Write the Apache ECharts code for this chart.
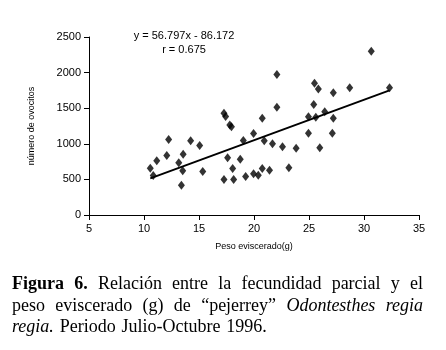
<!DOCTYPE html>
<html>
<head>
<meta charset="utf-8">
<script src="https://cdn.jsdelivr.net/npm/echarts@6/dist/echarts.min.js"></script>
<style>html,body{margin:0;padding:0;background:#fff}#c{width:446px;height:350px}</style>
</head>
<body>
<div id="c"></div>
<script>
// ---- data ----
const pesoEviscerado = [10.57,10.84,11.16,12.07,12.24,13.16,13.40,13.52,13.56,14.24,15.06,15.34,
  17.27,17.27,17.42,17.60,17.80,17.95,18.06,18.15,18.75,19.03,19.24,19.96,19.96,20.39,20.75,20.75,
  20.93,21.41,21.68,22.08,22.08,22.59,23.17,23.83,24.95,24.95,25.43,25.50,25.85,25.62,25.98,26.43,
  27.12,27.21,27.21,28.70,30.66,32.32];
const numeroOvocitos = [657,555,761,836,1060,733,419,621,854,1042,976,611,
  499,1430,1385,803,1265,1240,653,499,784,1046,541,1145,579,559,1360,653,
  1042,629,1000,1973,1514,958,663,938,1379,1149,1552,1850,1770,1374,944,1449,
  1149,1716,1360,1786,2300,1786];
const xTicks = [5,10,15,20,25,30,35];
const yTicks = [0,500,1000,1500,2000,2500];
const slope = 56.797, intercept = -86.172;
const equationText = 'y = 56.797x - 86.172';
const rText = 'r = 0.675';
const xAxisTitle = 'Peso eviscerado(g)';
const yAxisTitle = 'número de ovocitos';
const captionLines = [
  {justify:true, words:[['Figura','b'],['6.','b'],['Relación'],['entre'],['la'],['fecundidad'],['parcial'],['y'],['el']]},
  {justify:true, words:[['peso'],['eviscerado'],['(g)'],['de'],['“pejerrey”'],['Odontesthes','i'],['regia','i']]},
  {justify:false, words:[['regia.','i'],['Periodo'],['Julio-Octubre'],['1996.']]}
];

// ---- build ----
const points = pesoEviscerado.map((x,i)=>[x, numeroOvocitos[i]]);
const xmin = Math.min(...pesoEviscerado), xmax = Math.max(...pesoEviscerado);
const trend = [[xmin, slope*xmin+intercept],[xmax, slope*xmax+intercept]];

const capFontSize = 18;
const capFamily = '"Liberation Serif","Times New Roman",serif';
function fontFor(st){
  return (st==='i'?'italic ':'normal ') + (st==='b'?'bold ':'normal ') + capFontSize + 'px ' + capFamily;
}
const mc = document.createElement('canvas').getContext('2d');
function w(text, st){ mc.font = fontFor(st); return mc.measureText(text).width; }
const capLeft = 12, capRight = 423;
const capY = [284, 306, 327];
const graphics = [];
captionLines.forEach((line, li)=>{
  const widths = line.words.map(([t,s])=>w(t,s));
  const total = widths.reduce((a,b)=>a+b,0);
  const n = line.words.length;
  const gap = line.justify ? (capRight-capLeft-total)/(n-1) : w(' ','') * 1.3;
  let x = capLeft;
  line.words.forEach(([t,s],i)=>{
    graphics.push({type:'text', x:x, y:capY[li], style:{text:t, font:fontFor(s), fill:'#000', textVerticalAlign:'middle', verticalAlign:'middle'}});
    x += widths[i] + gap;
  });
});
const smallFont = '11px "Liberation Sans",Arial,sans-serif';
graphics.push({type:'text', x:184, y:36, style:{text:equationText, font:smallFont, fill:'#000', textAlign:'center', align:'center', textVerticalAlign:'middle', verticalAlign:'middle'}});
graphics.push({type:'text', x:184, y:50, style:{text:rText, font:smallFont, fill:'#000', textAlign:'center', align:'center', textVerticalAlign:'middle', verticalAlign:'middle'}});

const axisFont = {fontFamily:'"Liberation Sans",Arial,sans-serif', fontSize:11, color:'#000'};
const chart = echarts.init(document.getElementById('c'), null, {renderer:'canvas'});
chart.setOption({
  animation:false,
  backgroundColor:'#fff',
  grid:{left:89, right:27, top:37, bottom:135, containLabel:false},
  xAxis:{type:'value', min:xTicks[0], max:xTicks[xTicks.length-1], interval:5,
    name:xAxisTitle, nameLocation:'middle', nameGap:27,
    nameTextStyle:{fontFamily:'"Liberation Sans",Arial,sans-serif', fontSize:9, color:'#000'},
    axisLine:{show:true, onZero:false, lineStyle:{color:'#000', width:1}},
    axisTick:{show:true, inside:false, length:5, lineStyle:{color:'#000'}},
    axisLabel:Object.assign({margin:8, formatter:v=>String(v)}, axisFont),
    splitLine:{show:false}},
  yAxis:{type:'value', min:yTicks[0], max:yTicks[yTicks.length-1], interval:500,
    name:yAxisTitle, nameLocation:'middle', nameGap:53, nameRotate:90,
    nameTextStyle:{fontFamily:'"Liberation Sans",Arial,sans-serif', fontSize:9, color:'#000'},
    axisLine:{show:true, onZero:false, lineStyle:{color:'#000', width:1}},
    axisTick:{show:true, inside:false, length:5, lineStyle:{color:'#000'}},
    axisLabel:Object.assign({margin:8, formatter:v=>String(v)}, axisFont),
    splitLine:{show:false}},
  series:[
    {type:'line', data:trend, symbol:'none', lineStyle:{color:'#000', width:2}, z:2, silent:true},
    {type:'scatter', data:points, symbol:'diamond', symbolSize:[7,9], itemStyle:{color:'#000'}, z:3}
  ],
  graphic:graphics
});
</script>
</body>
</html>
